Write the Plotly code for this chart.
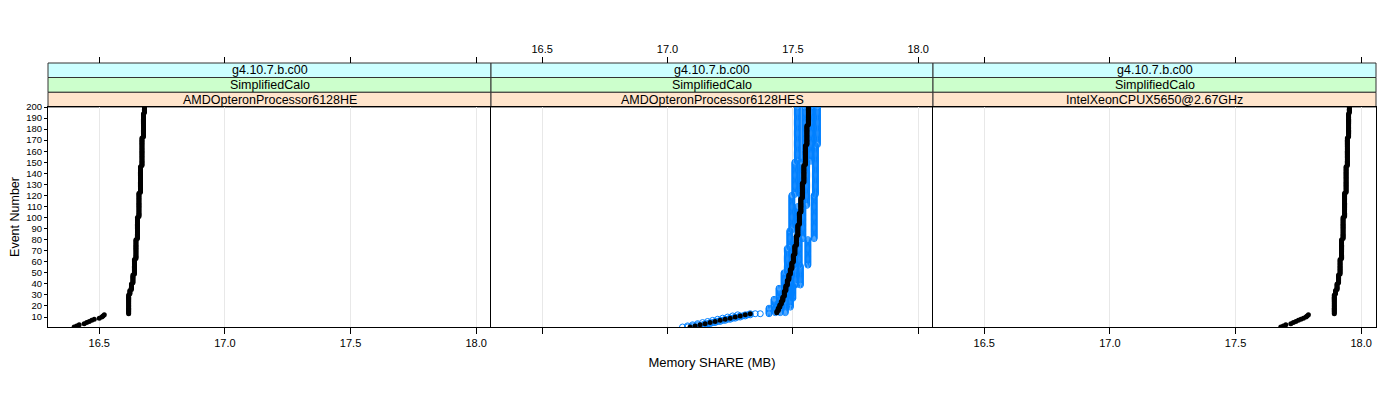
import numpy as np
import plotly.graph_objects as go

# ---------------- data (run-length encoded: value, repeat count per event) -------------
events = list(range(1, 201))

he_vals = [16.40, 16.41, 16.42, 16.44, 16.45, 16.46, 16.47, 16.48, 16.50, 16.51, 16.515, 16.52,
           16.617, 16.622, 16.628, 16.634, 16.640, 16.646, 16.652, 16.658, 16.664, 16.670, 16.676, 16.680]
he_counts = [1] * 12 + [18, 4, 6, 8, 14, 18, 20, 22, 24, 26, 22, 6]

intel_vals = [17.68, 17.69, 17.70, 17.72, 17.73, 17.74, 17.75, 17.76, 17.77, 17.78, 17.785, 17.79,
              17.893, 17.898, 17.904, 17.910, 17.916, 17.922, 17.928, 17.934, 17.940, 17.945, 17.950, 17.953]
intel_counts = [1] * 12 + [18, 4, 6, 8, 14, 18, 20, 22, 24, 26, 22, 6]

hes_vals = [17.09, 17.11, 17.13, 17.15, 17.17, 17.19, 17.21, 17.23, 17.25, 17.27, 17.29, 17.31, 17.33,
            17.436, 17.442, 17.448, 17.454, 17.460, 17.466, 17.472, 17.478, 17.484, 17.490, 17.496,
            17.502, 17.508, 17.514, 17.520, 17.526, 17.532, 17.538, 17.544, 17.550, 17.556, 17.562]
hes_counts = [1] * 13 + [2, 3, 3, 3, 4, 5, 5, 5, 5, 5, 6, 7, 8, 9, 10, 11, 13, 14, 16, 18, 18, 17]

# individual runs (blue) in the middle panel
runA_vals = [17.06, 17.08, 17.10, 17.12, 17.14, 17.16, 17.18, 17.20, 17.22, 17.24, 17.26, 17.28,
             17.405, 17.425, 17.445, 17.465, 17.478, 17.488, 17.496, 17.508, 17.518]
runA_counts = [1] * 12 + [6, 8, 10, 14, 22, 16, 32, 30, 50]

runB_vals = [17.08, 17.10, 17.12, 17.15, 17.17, 17.19, 17.21, 17.23, 17.25, 17.27, 17.29, 17.31, 17.33,
             17.43, 17.45, 17.47, 17.49, 17.505, 17.52, 17.535, 17.548]
runB_counts = [1] * 13 + [5, 8, 12, 18, 24, 30, 40, 50]

runC_vals = [17.10, 17.12, 17.14, 17.16, 17.18, 17.20, 17.22, 17.24, 17.26, 17.28, 17.30, 17.32, 17.35,
             17.45, 17.47, 17.49, 17.51, 17.525, 17.54, 17.555, 17.572]
runC_counts = [1] * 13 + [5, 8, 12, 18, 24, 30, 40, 50]

runD_vals = [17.11, 17.13, 17.15, 17.17, 17.19, 17.21, 17.23, 17.25, 17.27, 17.29, 17.31, 17.33, 17.37,
             17.47, 17.49, 17.50, 17.53, 17.56, 17.585, 17.59, 17.598]
runD_counts = [1] * 13 + [5, 8, 12, 18, 24, 40, 45, 35]

strip1 = "g4.10.7.b.c00"
strip2 = "SimplifiedCalo"
panel_labels = ["AMDOpteronProcessor6128HE", "AMDOpteronProcessor6128HES", "IntelXeonCPUX5650@2.67GHz"]

xtick_vals = [16.5, 17.0, 17.5, 18.0]
xtick_text = ["16.5", "17.0", "17.5", "18.0"]
ytick_vals = list(range(10, 201, 10))

x_range = [16.296, 18.059]
y_range = [1, 200]


def expand(vals, counts):
    return np.repeat(np.array(vals, dtype=float), np.array(counts)).tolist()


# ---------------- layout geometry (page body adds an 8px offset) -----------------
W, H = 1400, 400
OFF = 8
px = [48 - OFF, 491 - OFF, 933 - OFF, 1376 - OFF]
dom = [[px[i] / W, px[i + 1] / W] for i in range(3)]
y_bot = 1 - (327 - OFF) / H
y_top = 1 - (107 - OFF) / H
strip_edges = [1 - (63 - OFF) / H, 1 - (77.5 - OFF) / H, 1 - (92.3 - OFF) / H, 1 - (107 - OFF) / H]
strip_cols = ["#ccffff", "#ccffcc", "#ffe5cc"]

FONT = "Liberation Sans, Arial, Helvetica, sans-serif"

fig = go.Figure()

blue = "#0080ff"
for vals, counts in [(runA_vals, runA_counts), (runB_vals, runB_counts),
                     (runC_vals, runC_counts), (runD_vals, runD_counts)]:
    fig.add_trace(go.Scatter(
        x=expand(vals, counts), y=events, xaxis="x2", yaxis="y2", mode="markers",
        marker=dict(symbol="circle-open", size=6, color=blue, line=dict(width=1, color=blue)),
        showlegend=False, hoverinfo="x+y"))

for vals, counts, xa, ya in [(he_vals, he_counts, "x", "y"),
                             (hes_vals, hes_counts, "x2", "y2"),
                             (intel_vals, intel_counts, "x3", "y3")]:
    fig.add_trace(go.Scatter(
        x=expand(vals, counts), y=events, xaxis=xa, yaxis=ya, mode="markers",
        marker=dict(symbol="circle", size=5, color="black"),
        showlegend=False, hoverinfo="x+y"))

# dummy traces for the top tick axes
for xa, ya in [("x4", "y"), ("x5", "y2"), ("x6", "y3")]:
    fig.add_trace(go.Scatter(x=[], y=[], xaxis=xa, yaxis=ya, showlegend=False))

tickfont = dict(family=FONT, size=11, color="black")
layout = dict(
    width=W, height=H, margin=dict(l=0, r=0, t=0, b=0, autoexpand=False),
    plot_bgcolor="white", paper_bgcolor="white",
    font=dict(family=FONT, color="black"),
    showlegend=False,
)

for i in range(3):
    n = "" if i == 0 else str(i + 1)
    layout["xaxis" + n] = dict(
        domain=dom[i], range=x_range, anchor="y" + n, automargin=False,
        tickmode="array", tickvals=xtick_vals, ticktext=xtick_text,
        ticks="outside", ticklen=6, tickcolor="black", tickwidth=1,
        showticklabels=(i != 1), tickfont=tickfont,
        showgrid=True, gridcolor="#e8e8e8", gridwidth=1,
        showline=True, linecolor="black", linewidth=1, mirror=True,
        zeroline=False,
    )
    layout["yaxis" + n] = dict(
        domain=[y_bot, y_top], range=y_range, anchor="x" + n, automargin=False,
        tickmode="array", tickvals=ytick_vals,
        ticks="outside" if i == 0 else "", ticklen=3, tickcolor="black",
        showticklabels=(i == 0), tickfont=dict(family=FONT, size=9.5, color="black"),
        showgrid=False, zeroline=False,
        showline=True, linecolor="black", linewidth=1, mirror=(i == 2),
    )
    # top axes above strips
    layout["xaxis" + str(i + 4)] = dict(
        domain=dom[i], range=x_range, anchor="free", position=strip_edges[0],
        overlaying="x" + n, side="top", automargin=False,
        tickmode="array", tickvals=xtick_vals, ticktext=xtick_text,
        ticks="outside", ticklen=6, tickcolor="black", tickwidth=1,
        showticklabels=(i == 1), tickfont=tickfont,
        showgrid=False, showline=False, zeroline=False,
    )

layout["xaxis2"]["title"] = dict(text="Memory SHARE (MB)", font=dict(family=FONT, size=13), standoff=24)
layout["yaxis"]["title"] = dict(text="Event Number", font=dict(family=FONT, size=12.5), standoff=6)

shapes = []
annotations = []
strip_texts = [[strip1] * 3, [strip2] * 3, panel_labels]
for i in range(3):
    for k in range(3):
        shapes.append(dict(type="rect", xref="paper", yref="paper",
                           x0=dom[i][0], x1=dom[i][1], y0=strip_edges[k + 1], y1=strip_edges[k],
                           fillcolor=strip_cols[k], line=dict(color="#333333", width=1), layer="below"))
        annotations.append(dict(xref="paper", yref="paper",
                                x=(dom[i][0] + dom[i][1]) / 2, y=(strip_edges[k] + strip_edges[k + 1]) / 2,
                                text=strip_texts[k][i], showarrow=False,
                                font=dict(family=FONT, size=12.5, color="black"),
                                xanchor="center", yanchor="middle"))
layout["shapes"] = shapes
layout["annotations"] = annotations

fig.update_layout(**layout)
fig.write_html("out.html")
